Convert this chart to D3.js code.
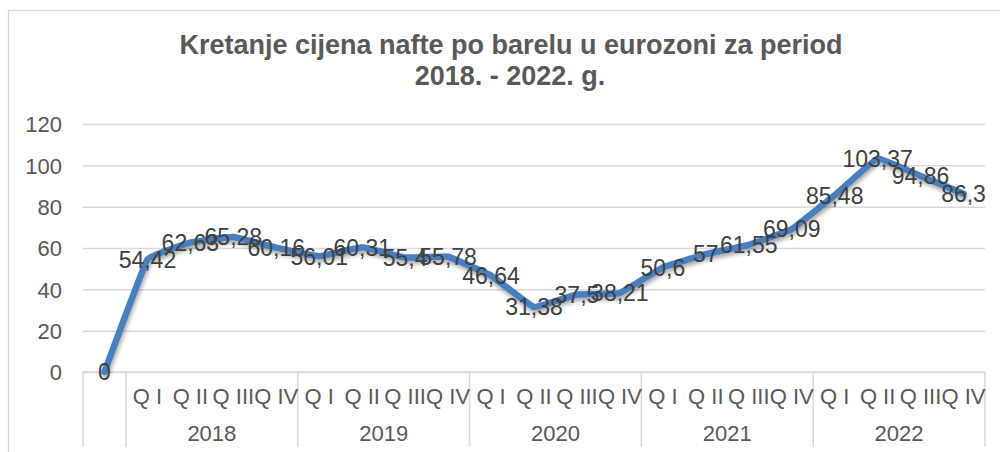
<!DOCTYPE html>
<html lang="hr">
<head>
<meta charset="UTF-8">
<title>Kretanje cijena nafte</title>
<script src="https://d3js.org/d3.v7.min.js"></script>
<style>
  body { margin: 0; background: #fff; }
  text { font-family: "Liberation Sans", Arial, sans-serif; }
</style>
</head>
<body>
<svg width="1000" height="452"></svg>
<script>
// data
const years = ["2018", "2019", "2020", "2021", "2022"];
const quarters = ["Q I", "Q II", "Q III", "Q IV"];
const values = [0, 54.42, 62.63, 65.28, 60.16, 56.01, 60.31, 55.4, 55.78,
                46.64, 31.38, 37.5, 38.21, 50.6, 57, 61.55, 69.09,
                85.48, 103.37, 94.86, 86.3];
const yTicks = [0, 20, 40, 60, 80, 100, 120];

// first category is empty (value 0), then year/quarter pairs
const cats = [{ key: "start", q: "", y: "" }];
years.forEach(y => quarters.forEach(q => cats.push({ key: y + q, q: q, y: y })));
const points = cats.map((c, i) => ({ key: c.key, v: values[i] }));

const svg = d3.select("svg");
const pLeft = 83, pRight = 985, pTop = 124, pBottom = 372;

const x = d3.scaleBand().domain(cats.map(c => c.key)).range([pLeft, pRight]);
const y = d3.scaleLinear().domain([0, 120]).range([pBottom, pTop]);

// chart border
svg.append("rect")
  .attr("x", 8.5).attr("y", 10.5)
  .attr("width", 1010).attr("height", 460)
  .attr("fill", "none").attr("stroke", "#d9d9d9").attr("stroke-width", 1.3);

const defs = svg.append("defs");
defs.append("filter").attr("id", "shadow")
  .attr("x", "-5%").attr("y", "-10%").attr("width", "110%").attr("height", "120%")
  .append("feDropShadow")
  .attr("dx", 1).attr("dy", 3).attr("stdDeviation", 2)
  .attr("flood-color", "#000").attr("flood-opacity", 0.35);

// title
const title = svg.append("text")
  .attr("text-anchor", "middle")
  .attr("fill", "#595959")
  .style("font-size", "27px")
  .style("font-weight", "bold");
title.append("tspan").attr("x", 511).attr("y", 54).text("Kretanje cijena nafte po barelu u eurozoni za period");
title.append("tspan").attr("x", 510).attr("y", 85).text("2018. - 2022. g.");

// y axis + gridlines
const yAxis = svg.append("g")
  .attr("transform", `translate(${pLeft},0)`)
  .call(d3.axisLeft(y).tickValues(yTicks).tickSize(-(pRight - pLeft)).tickPadding(21));
yAxis.select(".domain").remove();
yAxis.selectAll(".tick line").attr("stroke", "#d9d9d9").attr("stroke-width", 1.5);
yAxis.selectAll(".tick text")
  .attr("fill", "#595959")
  .style("font-size", "22px")
  .attr("dy", "0.36em");

// x axis: horizontal line and separators
const axisG = svg.append("g");
axisG.append("line")
  .attr("x1", pLeft).attr("x2", pRight)
  .attr("y1", pBottom).attr("y2", pBottom)
  .attr("stroke", "#d9d9d9").attr("stroke-width", 1.5);

const seps = [pLeft, pLeft + x.bandwidth()];
years.forEach(yr => seps.push(x(yr + quarters[3]) + x.bandwidth()));
axisG.selectAll(".sep")
  .data(seps)
  .enter().append("line")
  .attr("class", "sep")
  .attr("x1", d => d).attr("x2", d => d)
  .attr("y1", pBottom).attr("y2", 447)
  .attr("stroke", "#d9d9d9").attr("stroke-width", 1.5);

axisG.selectAll(".qlab")
  .data(cats.filter(c => c.q))
  .enter().append("text")
  .attr("class", "qlab")
  .attr("x", d => x(d.key) + x.bandwidth() / 2)
  .attr("y", 404)
  .attr("text-anchor", "middle")
  .attr("fill", "#595959")
  .style("font-size", "22px")
  .text(d => d.q);

axisG.selectAll(".ylab")
  .data(years)
  .enter().append("text")
  .attr("class", "ylab")
  .attr("x", d => (x(d + quarters[0]) + x(d + quarters[3]) + x.bandwidth()) / 2)
  .attr("y", 441)
  .attr("text-anchor", "middle")
  .attr("fill", "#595959")
  .style("font-size", "22px")
  .text(d => d);

// line
const line = d3.line()
  .x(d => x(d.key) + x.bandwidth() / 2)
  .y(d => y(d.v))
  .curve(d3.curveCardinal.tension(0.8));

svg.append("path")
  .datum(points)
  .attr("d", line)
  .attr("fill", "none")
  .attr("stroke", "#4a7ebf")
  .attr("stroke-width", 6.5)
  .attr("stroke-linejoin", "round")
  .attr("stroke-linecap", "round")
  .attr("filter", "url(#shadow)");

// data labels centred on points
svg.append("g").selectAll("text")
  .data(points)
  .enter().append("text")
  .attr("x", d => x(d.key) + x.bandwidth() / 2)
  .attr("y", d => y(d.v))
  .attr("dy", "0.36em")
  .attr("text-anchor", "middle")
  .attr("fill", "#404040")
  .style("font-size", "23px")
  .text(d => String(d.v).replace(".", ","));
</script>
</body>
</html>
